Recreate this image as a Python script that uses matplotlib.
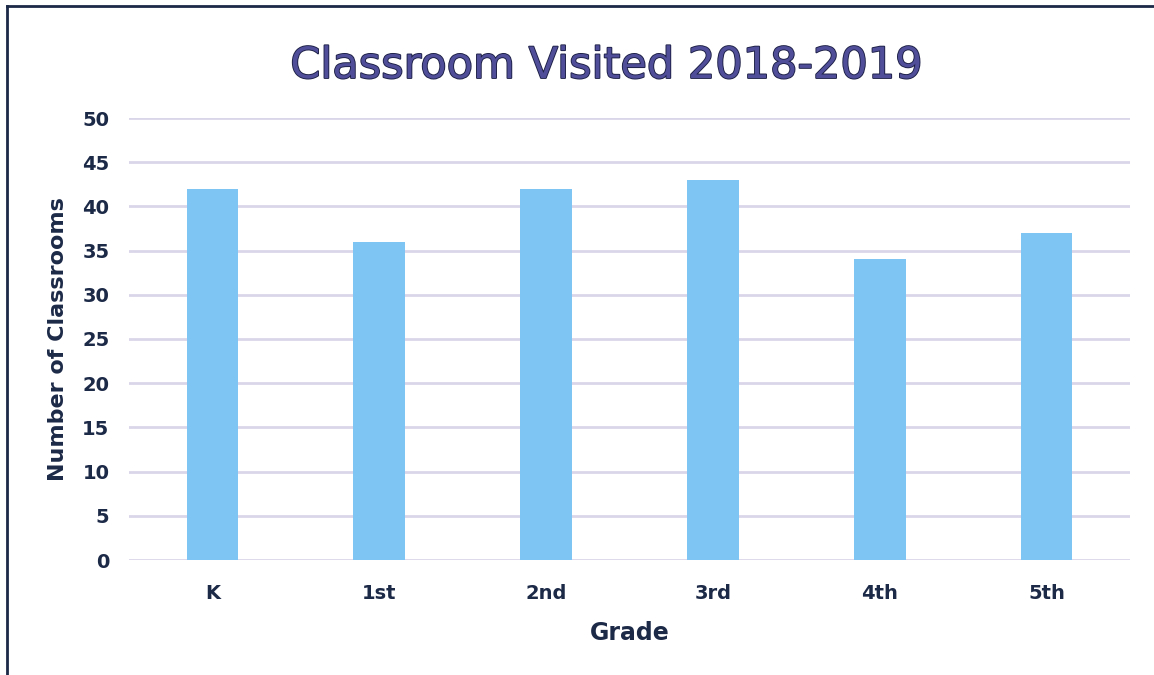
import matplotlib
matplotlib.use('Agg')
import matplotlib.pyplot as plt
import matplotlib.patheffects as pe
from matplotlib.lines import Line2D

grades = ['K', '1st', '2nd', '3rd', '4th', '5th']
classrooms = [42, 36, 42, 43, 34, 37]
y_ticks = [0, 5, 10, 15, 20, 25, 30, 35, 40, 45, 50]

navy = '#1c2947'
plt.rcParams['font.family'] = ['DejaVu Sans']

fig = plt.figure(figsize=(11.54, 6.75), dpi=100)
ax = fig.add_axes([129 / 1154, 1 - 560 / 675, 1001 / 1154, 442 / 675])

ax.bar(range(len(grades)), classrooms, width=0.31, color='#7fc5f3', zorder=3)

ax.set_xlim(-0.5, len(grades) - 0.5)
ax.set_ylim(0, 50)
ax.set_yticks(y_ticks)
ax.set_xticks(range(len(grades)))
ax.set_xticklabels(grades)
ax.tick_params(length=0, labelsize=14, labelcolor=navy)
for lbl in ax.get_xticklabels() + ax.get_yticklabels():
    lbl.set_fontweight('bold')
ax.tick_params(axis='y', pad=14)
ax.tick_params(axis='x', pad=17)

ax.grid(axis='y', color='#dad6ea', linewidth=2, zorder=0)
for s in ax.spines.values():
    s.set_visible(False)

ax.set_xlabel('Grade', fontsize=17, color=navy, labelpad=13, fontweight='semibold')
ax.set_ylabel('Number of Classrooms', fontsize=16, color=navy, labelpad=10,
              fontweight='semibold')

fig.text(0.525, 1 - 66 / 675, 'Classroom Visited 2018-2019', ha='center', va='center',
         fontsize=31, color='#504e98', family='DejaVu Sans', fontweight='normal',
         path_effects=[pe.withStroke(linewidth=1.3, foreground='#1c1f45')])

# frame lines at top and left
fig.add_artist(Line2D([7 / 1154, 7 / 1154], [0, 1 - 6 / 675], color=navy, linewidth=2,
                      transform=fig.transFigure))
fig.add_artist(Line2D([7 / 1154, 1], [1 - 6 / 675, 1 - 6 / 675], color=navy, linewidth=2,
                      transform=fig.transFigure))

fig.savefig('out.png', dpi=100)
